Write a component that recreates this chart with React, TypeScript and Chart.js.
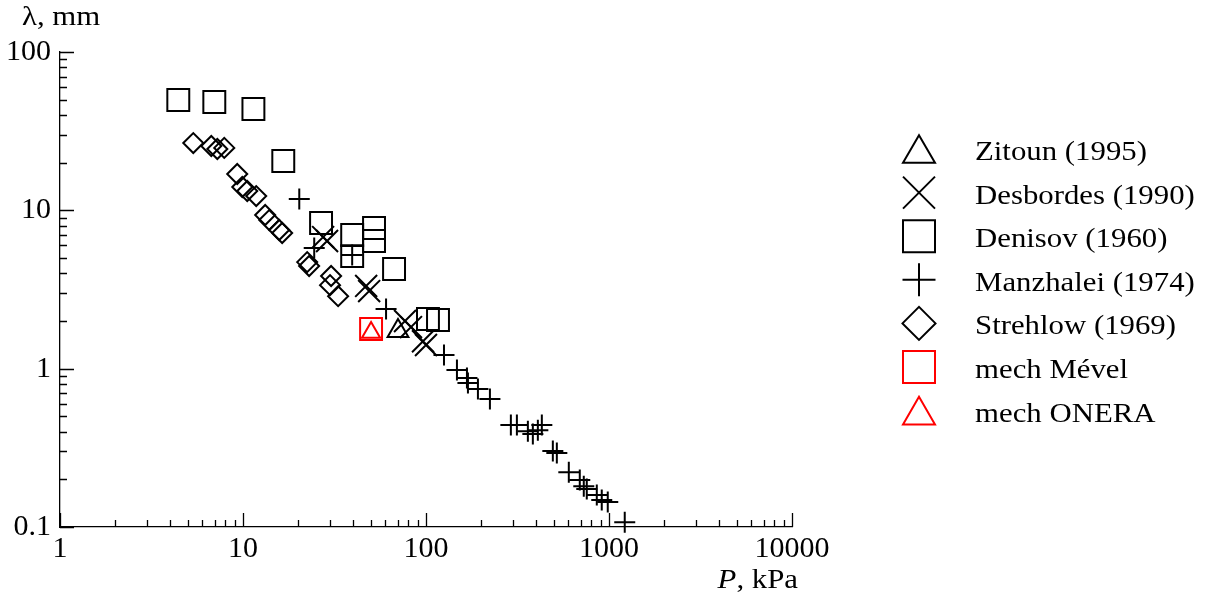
import React, { useEffect, useRef } from 'react';
import { Chart, registerables } from 'chart.js';

Chart.register(...registerables);

// ---- axis ticks ----
const X_TICKS = [1, 10, 100, 1000, 10000];
const Y_TICKS = [0.1, 1, 10, 100];
const MINOR_MULT = [2, 3, 4, 5, 6, 7, 8, 9];

// ---- series (P in kPa, lambda in mm) ----
const zitounP = [70.3];
const zitounL = [1.73];

const desbordesP = [27.4, 28.8, 47.1, 48.9, 76.8, 82.8, 96.3, 100];
const desbordesL = [6.78, 6.4, 3.33, 3.09, 2.0, 1.83, 1.49, 1.41];

const denisovP = [4.43, 6.97, 11.4, 16.6, 26.7, 39.5, 39.5, 52.0, 52.0, 66.9, 102.5, 116.3];
const denisovL = [49.7, 48.3, 43.6, 20.5, 8.31, 6.98, 5.14, 7.73, 6.4, 4.26, 2.06, 2.03];

const manzhaleiP = [20.3, 24.5, 39.5, 60.5, 125.4, 147.6, 167.4, 169.5, 192.2, 223.5, 290.9, 313.8, 360.3, 383.6, 429.5, 408.5, 493.3, 518.7, 603.1, 692.3, 728.1, 756.1, 857.6, 912.9, 984.5, 1219];
const manzhaleiL = [11.8, 5.78, 5.22, 2.38, 1.22, 0.98, 0.872, 0.811, 0.743, 0.643, 0.44, 0.44, 0.403, 0.386, 0.44, 0.409, 0.302, 0.293, 0.222, 0.198, 0.181, 0.174, 0.159, 0.148, 0.144, 0.107];

const strehlowP = [5.35, 6.71, 7.24, 7.9, 9.3, 9.91, 10.55, 11.81, 13.22, 13.91, 15.77, 16.37, 22.42, 22.98, 30.3, 29.9, 33.1];
const strehlowL = [26.6, 25.5, 24.4, 24.8, 16.96, 14.04, 13.24, 12.31, 9.34, 8.68, 7.51, 7.19, 4.71, 4.45, 3.85, 3.37, 2.87];

const mevelP = [50.1];
const mevelL = [1.78];

const oneraP = [50.1];
const oneraL = [1.69];

const SERIES_LABELS = [
  'Zitoun (1995)',
  'Desbordes (1990)',
  'Denisov (1960)',
  'Manzhalei (1974)',
  'Strehlow (1969)',
  'mech Mével',
  'mech ONERA',
];

const FONT = "'Liberation Serif', 'Times New Roman', serif";

function pts(xs: number[], ys: number[]) {
  return xs.map((x, i) => ({ x, y: ys[i] }));
}

function drawLegendShape(ctx: CanvasRenderingContext2D, style: string, cx: number, cy: number) {
  ctx.beginPath();
  if (style === 'triangle') {
    const s = 16;
    const h = s * 0.866;
    ctx.moveTo(cx, cy - h);
    ctx.lineTo(cx + s, cy + h);
    ctx.lineTo(cx - s, cy + h);
    ctx.closePath();
  } else if (style === 'crossRot') {
    const s = 16;
    ctx.moveTo(cx - s, cy - s);
    ctx.lineTo(cx + s, cy + s);
    ctx.moveTo(cx + s, cy - s);
    ctx.lineTo(cx - s, cy + s);
  } else if (style === 'rect') {
    const s = 16;
    ctx.rect(cx - s, cy - s, 2 * s, 2 * s);
  } else if (style === 'cross') {
    const s = 16.5;
    ctx.moveTo(cx - s, cy);
    ctx.lineTo(cx + s, cy);
    ctx.moveTo(cx, cy - s);
    ctx.lineTo(cx, cy + s);
  } else if (style === 'rectRot') {
    const s = 16.5;
    ctx.moveTo(cx - s, cy);
    ctx.lineTo(cx, cy - s);
    ctx.lineTo(cx + s, cy);
    ctx.lineTo(cx, cy + s);
    ctx.closePath();
  }
  ctx.stroke();
}

const decorPlugin = {
  id: 'decor',
  afterDraw(chart: any) {
    const { ctx, chartArea, scales } = chart;
    const xs = scales.x;
    const ys = scales.y;
    ctx.save();
    ctx.strokeStyle = '#000';
    ctx.lineWidth = 1.3;
    ctx.beginPath();
    // x axis ticks (inside)
    X_TICKS.forEach((base, i) => {
      const px = Math.round(xs.getPixelForValue(base)) + 0.5;
      ctx.moveTo(px, chartArea.bottom);
      ctx.lineTo(px, chartArea.bottom - 14);
      if (i < X_TICKS.length - 1) {
        MINOR_MULT.forEach((m) => {
          const mx = Math.round(xs.getPixelForValue(base * m)) + 0.5;
          ctx.moveTo(mx, chartArea.bottom);
          ctx.lineTo(mx, chartArea.bottom - 7);
        });
      }
    });
    // y axis ticks (inside)
    Y_TICKS.forEach((base, i) => {
      const py = Math.round(ys.getPixelForValue(base)) + 0.5;
      ctx.moveTo(chartArea.left, py);
      ctx.lineTo(chartArea.left + 14, py);
      if (i < Y_TICKS.length - 1) {
        MINOR_MULT.forEach((m) => {
          const my = Math.round(ys.getPixelForValue(base * m)) + 0.5;
          ctx.moveTo(chartArea.left, my);
          ctx.lineTo(chartArea.left + 7, my);
        });
      }
    });
    ctx.stroke();

    // axis titles
    ctx.fillStyle = '#000';
    ctx.textBaseline = 'alphabetic';
    ctx.textAlign = 'left';
    ctx.font = `28px ${FONT}`;
    ctx.save();
    ctx.translate(22, 25);
    ctx.scale(1.1, 1);
    ctx.fillText('λ, mm', 0, 0);
    ctx.restore();

    ctx.save();
    ctx.font = `italic 28px ${FONT}`;
    const wP = ctx.measureText('P').width;
    ctx.font = `28px ${FONT}`;
    const wRest = ctx.measureText(', kPa').width;
    const total = (wP + wRest) * 1.1;
    ctx.translate(798 - total, 588);
    ctx.scale(1.1, 1);
    ctx.font = `italic 28px ${FONT}`;
    ctx.fillText('P', 0, 0);
    ctx.font = `28px ${FONT}`;
    ctx.fillText(', kPa', wP, 0);
    ctx.restore();

    // legend
    const datasets = chart.data.datasets;
    datasets.forEach((ds: any, i: number) => {
      const cy = 149 + i * 43.6;
      ctx.strokeStyle = ds.borderColor;
      ctx.lineWidth = 2;
      drawLegendShape(ctx, ds.pointStyle, 919, cy);
      ctx.save();
      ctx.fillStyle = '#000';
      ctx.font = `28px ${FONT}`;
      ctx.translate(975, cy + 11);
      ctx.scale(1.1, 1);
      ctx.fillText(ds.label, 0, 0);
      ctx.restore();
    });
    ctx.restore();
  },
};

export default function App() {
  const ref = useRef<HTMLCanvasElement | null>(null);

  useEffect(() => {
    if (!ref.current) return;
    const mk = (label: string, data: any[], style: string, radius: number, color: string) => ({
      label,
      data,
      pointStyle: style,
      pointRadius: radius,
      pointHoverRadius: radius,
      borderColor: color,
      backgroundColor: 'rgba(0,0,0,0)',
      pointBorderWidth: 2,
      borderWidth: 2,
      showLine: false,
      clip: false,
    });
    const chart = new Chart(ref.current, {
      type: 'scatter',
      data: {
        datasets: [
          mk(SERIES_LABELS[0], pts(zitounP, zitounL), 'triangle', 12, '#000'),
          mk(SERIES_LABELS[1], pts(desbordesP, desbordesL), 'crossRot', 15.5, '#000'),
          mk(SERIES_LABELS[2], pts(denisovP, denisovL), 'rect', 15.5, '#000'),
          mk(SERIES_LABELS[3], pts(manzhaleiP, manzhaleiL), 'cross', 10.5, '#000'),
          mk(SERIES_LABELS[4], pts(strehlowP, strehlowL), 'rectRot', 10, '#000'),
          mk(SERIES_LABELS[5], pts(mevelP, mevelL), 'rect', 15.5, '#ff0000'),
          mk(SERIES_LABELS[6], pts(oneraP, oneraL), 'triangle', 10.5, '#ff0000'),
        ] as any,
      },
      options: {
        animation: false,
        responsive: false,
        maintainAspectRatio: false,
        layout: { padding: { top: 52, right: 423, left: 0, bottom: 0 } },
        plugins: {
          legend: { display: false },
          tooltip: { enabled: false },
        },
        scales: {
          x: {
            type: 'logarithmic',
            min: 1,
            max: 10000,
            grid: { display: false, drawTicks: false },
            border: { display: true, color: '#000', width: 1.3 },
            afterBuildTicks: (s: any) => {
              s.ticks = X_TICKS.map((v) => ({ value: v }));
            },
            afterFit: (s: any) => {
              s.height = 72;
            },
            ticks: {
              autoSkip: false,
              maxRotation: 0,
              minRotation: 0,
              padding: 4,
              color: '#000',
              font: { family: FONT, size: 30 },
              callback: (v: any) => String(v),
            },
          },
          y: {
            type: 'logarithmic',
            min: 0.1,
            max: 100,
            grid: { display: false, drawTicks: false },
            border: { display: true, color: '#000', width: 1.3 },
            afterBuildTicks: (s: any) => {
              s.ticks = Y_TICKS.map((v) => ({ value: v }));
            },
            afterFit: (s: any) => {
              s.width = 60;
            },
            ticks: {
              autoSkip: false,
              padding: 9,
              color: '#000',
              font: { family: FONT, size: 30 },
              callback: (v: any) => String(v),
            },
          },
        },
      } as any,
      plugins: [decorPlugin],
    });
    return () => chart.destroy();
  }, []);

  return (
    <div style={{ position: 'absolute', left: 0, top: 0, width: 1215, height: 599, background: '#fff' }}>
      <canvas ref={ref} width={1215} height={599} style={{ display: 'block' }} />
    </div>
  );
}
